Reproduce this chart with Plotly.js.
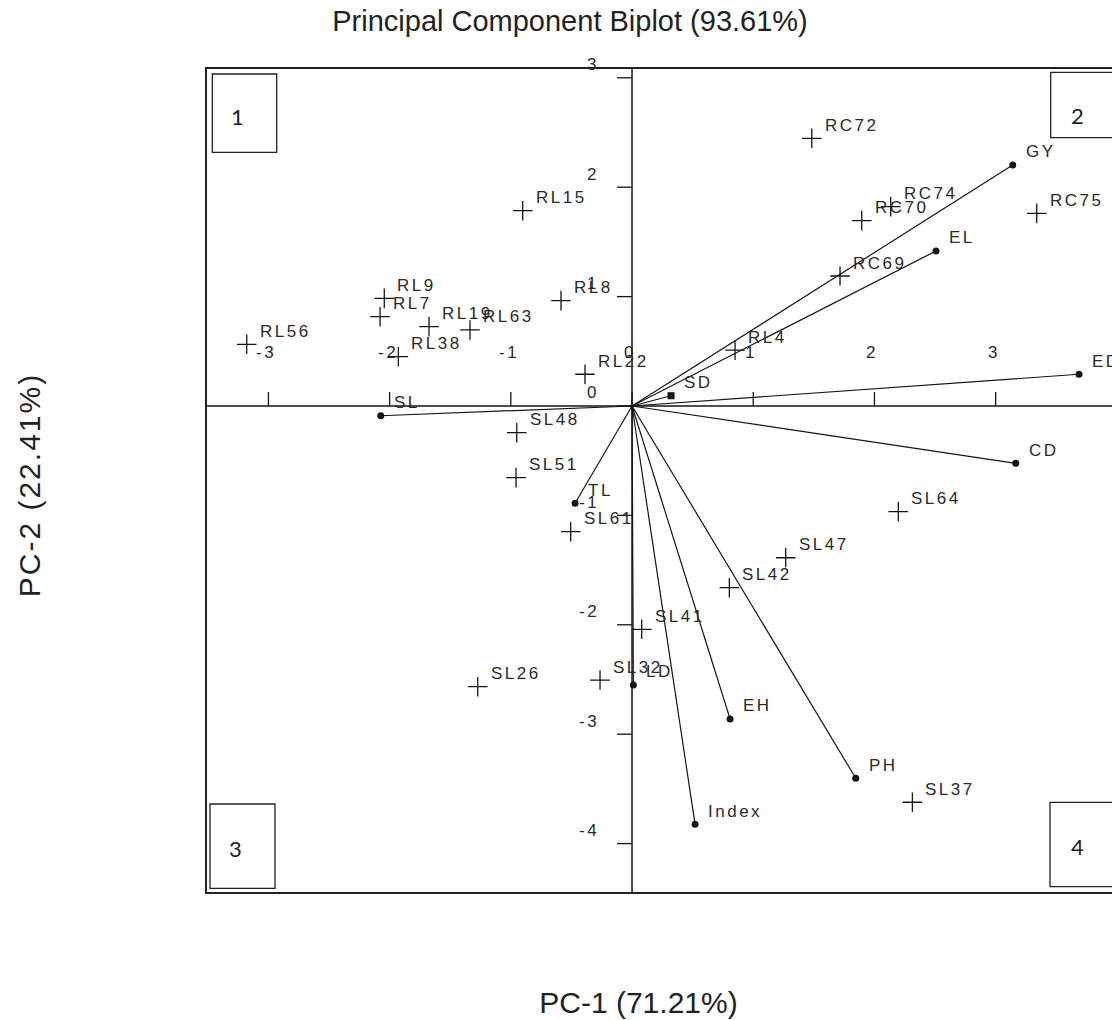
<!DOCTYPE html>
<html>
<head>
<meta charset="utf-8">
<script src="https://cdn.plot.ly/plotly-3.0.1.min.js"></script>
<style>
  html, body { margin: 0; padding: 0; background: #fff; }
  .annotation-text { letter-spacing: 2.5px; }
  .annotation[data-index="0"] .annotation-text { letter-spacing: 0px; }
  .annotation[data-index="1"] .annotation-text { letter-spacing: 2px; }
</style>
</head>
<body>
<div id="chart" style="width:1112px;height:1020px;"></div>
<script>
// ---------- data ----------
// genotypes (crosses)
const objNames = ["RL15","RL9","RL7","RL19","RL63","RL56","RL38","RL8","RL22","SL48",
                  "RC72","RC74","RC70","RC75","RC69","RL4",
                  "SL51","SL61","SL26","SL32","SL41","SL64","SL47","SL42","SL37"];
const objX = [-0.902,-2.044,-2.079,-1.675,-1.337,-3.179,-1.928,-0.586,-0.388,-0.951,
              1.483,2.134,1.895,3.339,1.716,0.850,
              -0.957,-0.506,-1.273,-0.264,0.080,2.197,1.268,0.803,2.313];
const objY = [1.785,0.984,0.816,0.725,0.695,0.564,0.451,0.963,0.290,-0.244,
              2.447,1.822,1.694,1.761,1.188,0.510,
              -0.655,-1.149,-2.566,-2.505,-2.041,-0.966,-1.387,-1.661,-3.622];
// traits (vectors)
const varNames = ["GY","EL","ED","SD","CD","PH","EH","Index","LD","TL","SL"];
const varX = [3.141,2.508,3.688,0.322,3.166,1.846,0.809,0.520,0.011,-0.470,-2.073];
const varY = [2.203,1.417,0.290,0.094,-0.524,-3.403,-2.861,-3.824,-2.550,-0.889,-0.089];
// axis ticks
const xTickVals = [-3,-2,-1,0,1,2,3];
const yTickVals = [3,2,1,0,-1,-2,-3,-4];
const quadrantLabels = ["1","2","3","4"];

// ---------- layout geometry ----------
const W = 1112, H = 1020;
const M = {l:190, r:0, t:50, b:110};
const xRange = [-3.647, 3.960];
const yRange = [-4.607, 3.254];
const frameX = [-3.515, 4.3];
const frameY = [-4.452, 3.090];
const pxX = (W - M.l - M.r) / (xRange[1] - xRange[0]);
const pxY = (H - M.t - M.b) / (yRange[1] - yRange[0]);
const paperX = px => (px - M.l) / (W - M.l - M.r);
const paperY = py => (H - M.b - py) / (H - M.t - M.b);

const ink = '#151515';
const textCol = '#2a2a2a';
const labFont = {family: 'Liberation Sans, Arial, sans-serif', size: 17, color: textCol};

// ---------- traces ----------
const vecX = [], vecY = [];
varNames.forEach((n, i) => { vecX.push(0, varX[i], null); vecY.push(0, varY[i], null); });

const traces = [
  {type:'scatter', mode:'lines', x:vecX, y:vecY, hoverinfo:'skip',
   line:{color:ink, width:1.2}, showlegend:false},
  {type:'scatter', mode:'markers', x:varX, y:varY, text:varNames, hoverinfo:'text',
   marker:{symbol: varNames.map(n => n === 'SD' ? 'square' : 'circle'), size:7, color:ink},
   showlegend:false},
  {type:'scatter', mode:'markers', x:objX, y:objY, text:objNames, hoverinfo:'text',
   marker:{symbol:'cross-thin-open', size:14, color:ink, line:{color:ink, width:1.3}},
   showlegend:false}
];

// ---------- shapes ----------
const shapes = [];
shapes.push({type:'rect', xref:'x', yref:'y', x0:frameX[0], x1:frameX[1], y0:frameY[0], y1:frameY[1],
             line:{color:'#222', width:2}, layer:'above'});
shapes.push({type:'line', xref:'x', yref:'y', x0:frameX[0], x1:frameX[1], y0:0, y1:0,
             line:{color:ink, width:1.5}});
shapes.push({type:'line', xref:'x', yref:'y', x0:0, x1:0, y0:frameY[0], y1:frameY[1],
             line:{color:ink, width:1.5}});
const tickLenX = 14 / pxY, tickLenY = 15 / pxX;
xTickVals.forEach(v => shapes.push({type:'line', xref:'x', yref:'y', x0:v, x1:v, y0:0, y1:tickLenX,
             line:{color:ink, width:1.3}}));
yTickVals.forEach(v => shapes.push({type:'line', xref:'x', yref:'y', x0:-tickLenY, x1:0, y0:v, y1:v,
             line:{color:ink, width:1.3}}));
// quadrant boxes (pixel boxes -> paper)
const qBoxes = [[212.3,74,276.7,152.3],[1050.7,72.3,1117,137.7],[210,804,275,888.3],[1050,802.3,1117,886.7]];
const qText = [[238.5,116.5],[1078.5,115],[236.5,848],[1078.5,846.5]];
qBoxes.forEach(b => shapes.push({type:'rect', xref:'paper', yref:'paper',
             x0:paperX(b[0]), x1:paperX(b[2]), y0:paperY(b[3]), y1:paperY(b[1]),
             line:{color:'#222', width:1.3}}));

// ---------- annotations ----------
const annotations = [];
// 0: x title, 1: y title (indices used by CSS)
annotations.push({xref:'paper', yref:'paper', x:paperX(638), y:paperY(1003), xanchor:'center', yanchor:'middle',
  text:'PC-1 (71.21%)', showarrow:false, font:{family:'Liberation Sans, Arial, sans-serif', size:30, color:'#222'}});
annotations.push({xref:'paper', yref:'paper', x:paperX(29), y:paperY(485.5), xanchor:'center', yanchor:'middle',
  text:'PC-2 (22.41%)', textangle:-90, showarrow:false, font:{family:'Liberation Sans, Arial, sans-serif', size:30, color:'#222'}});
// point labels
objNames.forEach((n, i) => annotations.push({xref:'x', yref:'y', x:objX[i], y:objY[i], text:n,
  showarrow:false, xanchor:'left', yanchor:'middle', xshift:11, yshift:13, font:labFont}));
varNames.forEach((n, i) => annotations.push({xref:'x', yref:'y', x:varX[i], y:varY[i], text:n,
  showarrow:false, xanchor:'left', yanchor:'middle', xshift:11, yshift:13, font:labFont}));
// tick labels
xTickVals.forEach(v => annotations.push({xref:'x', yref:'y', x:v, y:0, text:String(v),
  showarrow:false, xanchor:'center', yanchor:'middle', xshift:-2, yshift:53, font:labFont}));
yTickVals.forEach(v => annotations.push({xref:'x', yref:'y', x:0, y:v, text:String(v),
  showarrow:false, xanchor:'right', yanchor:'middle', xshift:-31, yshift:13, font:labFont}));
// quadrant numbers
quadrantLabels.forEach((q, i) => annotations.push({xref:'paper', yref:'paper',
  x:paperX(qText[i][0]), y:paperY(qText[i][1]), text:q, showarrow:false, xanchor:'center', yanchor:'middle',
  font:{family:'Lato, Open Sans, sans-serif', size:22, color:'#1b1b2a'}}));

const layout = {
  width: W, height: H,
  margin: M,
  paper_bgcolor: '#fff', plot_bgcolor: '#fff',
  font: {family:'Liberation Sans, Arial, sans-serif', color:textCol},
  title: {text:'Principal Component Biplot (93.61%)', xref:'container', yref:'container',
          x: 570 / W, xanchor:'center', y: 1 - 21 / H, yanchor:'middle',
          font:{family:'Liberation Sans, Arial, sans-serif', size:29, color:'#222'}},
  xaxis: {range:xRange, visible:false, fixedrange:true},
  yaxis: {range:yRange, visible:false, fixedrange:true},
  shapes: shapes,
  annotations: annotations,
  showlegend: false,
  hovermode: 'closest'
};

Plotly.newPlot('chart', traces, layout, {displayModeBar:false, staticPlot:true});
</script>
</body>
</html>
